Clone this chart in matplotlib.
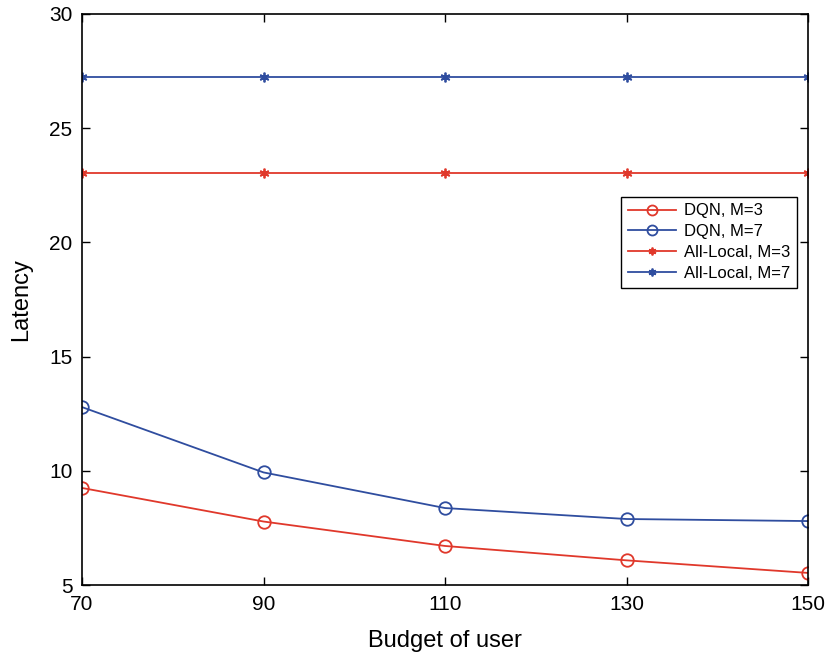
import matplotlib
matplotlib.use('Agg')
import matplotlib.pyplot as plt

budget = [70, 90, 110, 130, 150]
dqn_m3 = [9.25, 7.78, 6.71, 6.08, 5.53]
dqn_m7 = [12.79, 9.93, 8.37, 7.89, 7.80]
local_m3 = [23.05, 23.05, 23.05, 23.05, 23.05]
local_m7 = [27.25, 27.25, 27.25, 27.25, 27.25]

red = '#E0382B'
blue = '#2F4D9F'

plt.rcParams['font.family'] = ['Liberation Sans', 'DejaVu Sans']

fig = plt.figure(figsize=(8.3, 6.6), dpi=100)
ax = fig.add_axes([0.0988, 0.1136, 0.8747, 0.8652])

ax.plot(budget, dqn_m3, color=red, marker='o', markersize=9, markerfacecolor='none',
        markeredgewidth=1.3, linewidth=1.3, label='DQN, M=3')
ax.plot(budget, dqn_m7, color=blue, marker='o', markersize=9, markerfacecolor='none',
        markeredgewidth=1.3, linewidth=1.3, label='DQN, M=7')
ax.plot(budget, local_m3, color=red, marker=(6, 2, 0), markersize=7,
        markeredgewidth=1.3, linewidth=1.3, label='All-Local, M=3')
ax.plot(budget, local_m7, color=blue, marker=(6, 2, 0), markersize=7,
        markeredgewidth=1.3, linewidth=1.3, label='All-Local, M=7')

ax.set_xlim(70, 150)
ax.set_ylim(5, 30)
ax.set_xticks(budget)
ax.set_yticks([5, 10, 15, 20, 25, 30])
ax.tick_params(direction='in', length=6, width=1, labelsize=15, pad=7,
               top=True, right=True)
for s in ax.spines.values():
    s.set_linewidth(1.2)

ax.set_xlabel('Budget of user', fontsize=17, labelpad=12)
ax.set_ylabel('Latency', fontsize=17, labelpad=12)

leg = ax.legend(loc='upper right', bbox_to_anchor=(0.985, 0.68), fontsize=12,
                frameon=True, fancybox=False, edgecolor='black', framealpha=1,
                borderpad=0.4, labelspacing=0.35, handlelength=2.9, borderaxespad=0,
                handletextpad=0.5, markerscale=0.8)
leg.get_frame().set_linewidth(1.0)

fig.savefig('out.png', dpi=100)
